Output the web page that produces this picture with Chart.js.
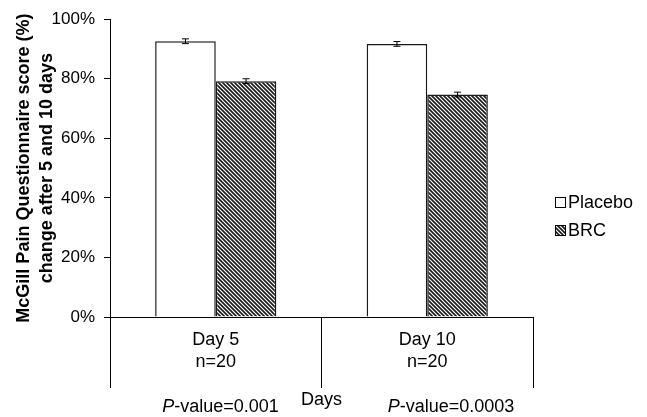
<!DOCTYPE html>
<html>
<head>
<meta charset="utf-8">
<script src="https://cdn.jsdelivr.net/npm/chart.js@4/dist/chart.umd.min.js"></script>
<style>
  html, body { margin: 0; padding: 0; background: #fff; }
  #wrap { width: 647px; height: 417px; }
</style>
</head>
<body>
<div id="wrap"><canvas id="c" width="647" height="417"></canvas></div>
<script>
// ---- data ----
const categories = [["Day 5", "n=20"], ["Day 10", "n=20"]];
const seriesNames = ["Placebo", "BRC"];
const placeboValues = [92.6, 91.7];
const brcValues = [79.2, 74.7];
const placeboErrors = [0.8, 0.8];
const brcErrors = [0.8, 0.8];
const yTicks = [0, 20, 40, 60, 80, 100];
const pValueLabels = ["0.001", "0.0003"];
const xTitle = "Days";
const yTitle = ["McGill Pain Questionnaire score (%)", "change after 5 and 10 days"];

// ---- styling ----
const FONT = "'Liberation Sans', Arial, Helvetica, sans-serif";
Chart.defaults.font.family = FONT;
Chart.defaults.color = '#000';

function makeStripes() {
  const p = document.createElement('canvas');
  p.width = 4; p.height = 4;
  const g = p.getContext('2d');
  g.fillStyle = '#fff';
  g.fillRect(0, 0, 4, 4);
  g.strokeStyle = '#1a1a1a';
  g.lineWidth = 1.6;
  g.beginPath();
  g.moveTo(-1, -1); g.lineTo(5, 5);
  g.moveTo(-1, 3); g.lineTo(1, 5);
  g.moveTo(3, -1); g.lineTo(5, 1);
  g.stroke();
  return g.createPattern(p, 'repeat');
}
const stripes = makeStripes();

const errorBars = {
  id: 'errorBars',
  afterDatasetsDraw(chart) {
    const ctx = chart.ctx;
    const y = chart.scales.y;
    const errs = [placeboErrors, brcErrors];
    ctx.save();
    ctx.strokeStyle = '#000';
    ctx.lineWidth = 1;
    chart.data.datasets.forEach((ds, di) => {
      const meta = chart.getDatasetMeta(di);
      meta.data.forEach((bar, i) => {
        const v = ds.data[i], e = errs[di][i];
        const x = bar.x;
        const yTop = y.getPixelForValue(v + e);
        const yBot = y.getPixelForValue(v - e);
        const cap = 3.5;
        ctx.beginPath();
        ctx.moveTo(x, yTop); ctx.lineTo(x, yBot);
        ctx.moveTo(x - cap, yTop); ctx.lineTo(x + cap, yTop);
        ctx.moveTo(x - cap, yBot); ctx.lineTo(x + cap, yBot);
        ctx.stroke();
      });
    });
    ctx.restore();
  }
};

const customLegend = {
  id: 'customLegend',
  afterDraw(chart, args, opts) {
    const ctx = chart.ctx;
    const area = chart.chartArea;
    ctx.save();
    ctx.font = '18px ' + FONT;
    ctx.textBaseline = 'middle';
    ctx.textAlign = 'left';
    chart.data.datasets.forEach((ds, i) => {
      const x = area.right + opts.offsetX;
      const cy = opts.firstY + i * opts.rowGap;
      ctx.fillStyle = ds.backgroundColor;
      ctx.fillRect(x, cy - 5, 10, 10);
      ctx.strokeStyle = '#000';
      ctx.lineWidth = 1;
      ctx.strokeRect(x + 0.5, cy - 4.5, 10, 10);
      ctx.fillStyle = '#000';
      ctx.fillText(ds.label, x + 13, cy + 1);
    });
    ctx.restore();
  }
};

const pValues = {
  id: 'pValues',
  afterDraw(chart, args, opts) {
    const ctx = chart.ctx;
    const xs = chart.scales.x;
    ctx.save();
    ctx.textBaseline = 'middle';
    ctx.textAlign = 'left';
    ctx.fillStyle = '#000';
    pValueLabels.forEach((pv, i) => {
      let x = xs.getPixelForValue(i) + opts.offsets[i];
      ctx.font = 'italic 18px ' + FONT;
      ctx.fillText('P', x, opts.y);
      x += ctx.measureText('P').width;
      ctx.font = '18px ' + FONT;
      ctx.fillText('-value=' + pv, x, opts.y);
    });
    ctx.restore();
  }
};

new Chart(document.getElementById('c'), {
  type: 'bar',
  data: {
    labels: categories,
    datasets: [
      {
        label: seriesNames[0],
        data: placeboValues,
        backgroundColor: '#ffffff',
        borderColor: '#1a1a1a',
        borderWidth: 1.5,
        categoryPercentage: 0.573,
        barPercentage: 1.0
      },
      {
        label: seriesNames[1],
        data: brcValues,
        backgroundColor: stripes,
        borderColor: '#1a1a1a',
        borderWidth: 1.5,
        categoryPercentage: 0.573,
        barPercentage: 1.0
      }
    ]
  },
  options: {
    responsive: false,
    animation: false,
    devicePixelRatio: 1,
    layout: { padding: { top: 19, right: 114, bottom: 0, left: 0 } },
    plugins: {
      legend: { display: false },
      tooltip: { enabled: false },
      customLegend: { offsetX: 22, firstY: 202, rowGap: 28 },
      pValues: { y: 407, offsets: [-53.5, -39.5] }
    },
    scales: {
      x: {
        grid: { offset: true, drawOnChartArea: false, tickLength: 71, color: '#000', lineWidth: 1 },
        border: { color: '#000', width: 1 },
        ticks: { padding: -58.8, font: { size: 18, lineHeight: 1.2 }, color: '#000' },
        title: { display: true, text: xTitle, font: { size: 18 }, padding: { top: 16.8, bottom: 6.2 }, color: '#000' },
        afterFit(s) { s.height = 100; }
      },
      y: {
        min: 0, max: 100,
        afterBuildTicks(s) { s.ticks = yTicks.map(v => ({ value: v })); },
        grid: { drawOnChartArea: false, tickLength: 6, color: '#000', lineWidth: 1 },
        border: { color: '#000', width: 1 },
        ticks: { padding: 9, font: { size: 17 }, color: '#000', callback: v => v + '%' },
        title: { display: true, text: yTitle, font: { size: 18, weight: 'bold', lineHeight: 1.27 }, padding: { top: 12.4, bottom: 0 }, color: '#000' },
        afterFit(s) { s.width = 110; }
      }
    }
  },
  plugins: [errorBars, customLegend, pValues]
});
</script>
</body>
</html>
